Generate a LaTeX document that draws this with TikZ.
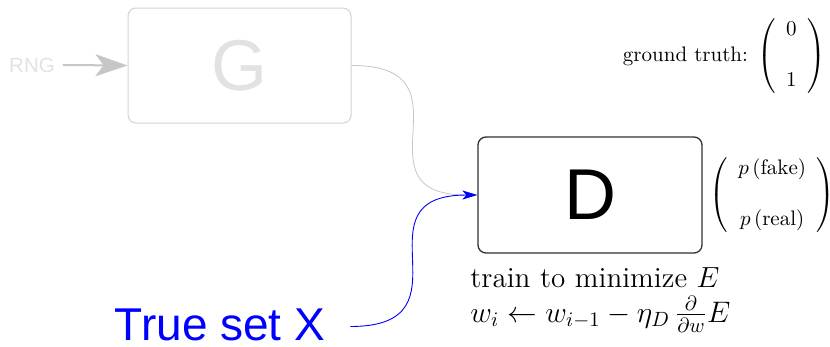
\documentclass[tikz,border=0pt]{standalone}
\usepackage{fontspec}
\newfontfamily\hvfont{Liberation Sans}
\usetikzlibrary{arrows.meta}
\definecolor{faint}{HTML}{D2D2D2}
\definecolor{fainttext}{HTML}{E2E2E2}
\definecolor{faintarrow}{HTML}{C6C6C6}
\definecolor{boxedge}{HTML}{303030}
\begin{document}
\begin{tikzpicture}[x=1pt,y=-1pt,
  netbox/.style={draw, rounded corners=8pt, minimum width=223pt, minimum height=115pt, inner sep=0pt},
  bigletter/.style={font=\hvfont\fontsize{72}{72}\selectfont},
  mathnote/.style={inner sep=0pt, scale=2.1},
  feed/.style={-{Stealth[length=15pt,width=9pt,inset=4pt]}}
]
\useasboundingbox (0,0) rectangle (830,346);

% generator (greyed out)
\node[netbox, draw=faint, line width=1pt, bigletter, text=fainttext] (G) at (239.5,65.5) {G};
\node[font=\hvfont\fontsize{20.5}{20.5}\selectfont, text=fainttext, inner sep=8pt] (rng) at (32,65) {RNG};
\draw[faintarrow, line width=2pt, -{Stealth[length=32pt,width=22pt,inset=8pt]}] (rng.east) -- (G.west);

% discriminator
\node[netbox, draw=boxedge, line width=1.3pt, bigletter, minimum width=224pt, minimum height=116pt] (D) at (590,195) {D};

% real data
\node[font=\hvfont\fontsize{46}{46}\selectfont, text=blue, inner sep=0pt] (X) at (220,325) {True set X};

% inputs to the discriminator
\draw[faintarrow, line width=0.8pt, feed] (G.east) .. controls +(127,0) and +(-127,0) .. (D.west);
\draw[blue, line width=0.9pt, feed] ([xshift=25pt,yshift=-1.5pt]X.east) .. controls +(126,0) and +(-126,0) .. (D.west);

% outputs and targets
\node[mathnote, anchor=west] (out) at (709,195)
  {$\left(\begin{array}{c} p\left(\mathrm{fake}\right)\\[12pt] p\left(\mathrm{real}\right)\end{array}\right)$};
\node[mathnote, anchor=east] (truth) at (826,56)
  {ground truth: $\left(\begin{array}{c} 0\\[12pt] 1\end{array}\right)$};

% training rule
\node[inner sep=0pt, anchor=base west, font=\Large, scale=2.02] (train) at (470,287) {train to minimize $E$};
\node[inner sep=0pt, anchor=base west, font=\Large, scale=2.06] (update) at (470,322)
  {$w_i \leftarrow w_{i-1} - \eta_D \, \frac{\partial}{\partial w} E$};
\end{tikzpicture}
\end{document}
